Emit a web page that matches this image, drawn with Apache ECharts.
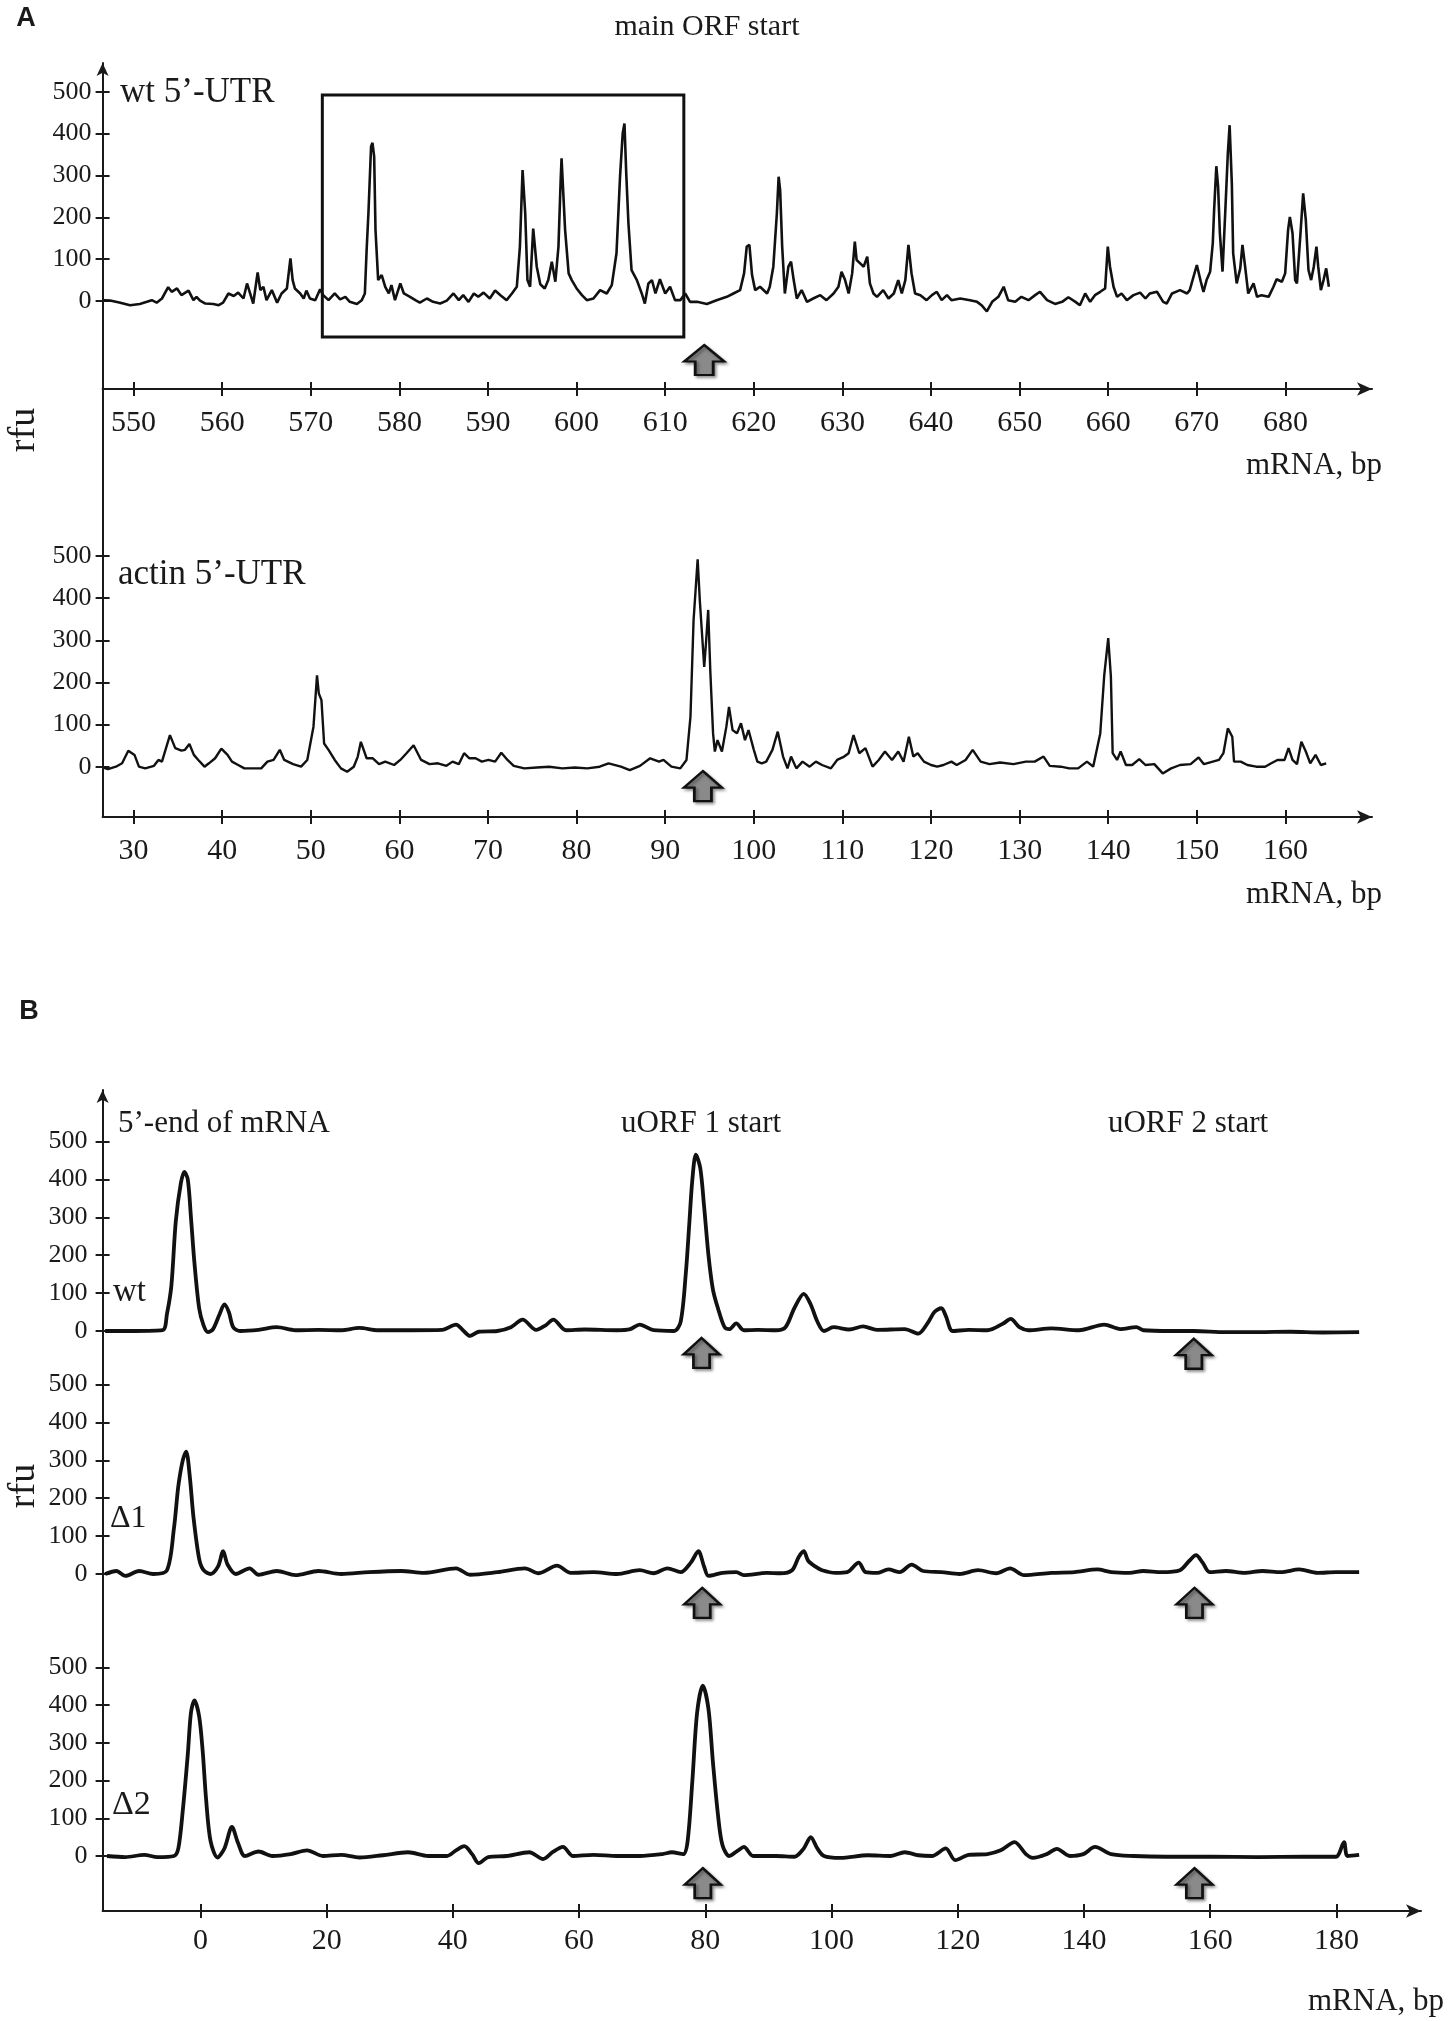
<!DOCTYPE html>
<html>
<head>
<meta charset="UTF-8">
<title>toeprint traces</title>
<script src="https://cdn.jsdelivr.net/npm/echarts@6.0.0/dist/echarts.min.js"></script>
<style>
  html, body { margin: 0; padding: 0; background: #fff; }
  #chart { width: 1450px; height: 2021px; }
</style>
</head>
<body>
<div id="chart"></div>
<script>
// ---- tick values ----
var rfuTicks    = [0, 100, 200, 300, 400, 500];
var wtUtrTicks  = [550, 560, 570, 580, 590, 600, 610, 620, 630, 640, 650, 660, 670, 680];
var actinTicks  = [30, 40, 50, 60, 70, 80, 90, 100, 110, 120, 130, 140, 150, 160];
var panelBTicks = [0, 20, 40, 60, 80, 100, 120, 140, 160, 180];

// ---- A: wt 5'-UTR trace (bp, rfu) ----
var wtUtrBp = [546.6, 547.35, 548.5, 549.6, 550.7, 551.5, 552.05, 552.6, 553.2, 553.9, 554.3, 554.9, 555.4, 556.2, 556.75, 557.1, 557.5, 558.1, 559.0, 559.6,
  560.1, 560.7, 561.3, 561.8, 562.4, 562.8, 563.15, 563.5, 564.0, 564.3, 564.65, 565.0, 565.6, 566.2, 566.7, 567.3, 567.7, 567.95, 568.2, 568.8,
  569.2, 569.5, 569.9, 570.5, 571.05, 571.4, 572.0, 572.7, 573.3, 573.9, 574.4, 575.2, 575.75, 576.1, 576.3, 576.5, 576.8, 576.96, 577.15, 577.3,
  577.6, 578.0, 578.4, 578.8, 579.1, 579.5, 580.1, 580.5, 581.2, 581.8, 582.3, 583.1, 583.8, 584.6, 585.35, 586.1, 586.7, 587.2, 587.8, 588.4,
  588.9, 589.5, 590.2, 590.8, 591.4, 592.1, 592.7, 593.25, 593.6, 593.9, 594.2, 594.45, 594.75, 595.1, 595.5, 595.9,
  596.4, 596.8, 597.2, 597.6, 597.95, 598.2, 598.3, 598.5, 598.7, 599.1, 599.45, 600.0, 600.6, 601.15, 601.9, 602.65, 603.4, 603.97, 604.5, 604.9,
  605.2, 605.4, 605.6, 605.85, 606.2, 606.8, 607.35, 607.7, 608.1, 608.5, 608.9, 609.4, 610.0, 610.55, 611.1, 611.7, 612.25, 612.8, 613.6, 614.7,
  615.8, 616.95, 617.7, 618.45, 618.9, 619.2, 619.5, 619.8, 620.15, 620.7, 621.5, 621.8, 622.2, 622.6, 622.8, 622.97, 623.2, 623.5, 623.9, 624.2,
  624.5, 624.85, 625.4, 626.0, 626.7, 627.5, 628.2, 629.0, 629.55, 629.9, 630.3, 630.7, 631.1, 631.4, 631.6, 632.0, 632.4, 632.8, 633.1, 633.5,
  633.9, 634.6, 635.2, 635.8, 636.3, 636.7, 637.1, 637.45, 637.8, 638.2, 638.8, 639.5, 640.1, 640.65, 641.2, 641.8, 642.3, 643.3, 644.4, 645.2,
  645.7, 646.3, 646.9, 647.6, 648.2, 648.7, 649.5, 650.2, 651.0, 651.75, 652.3, 653.1, 654.0, 654.8, 655.5, 656.3, 656.8, 657.4, 657.96, 658.5,
  659.1, 659.65, 659.95, 660.2, 660.6, 661.0, 661.5, 662.1, 662.85, 663.6, 664.2, 664.7, 665.5, 666.2, 666.6, 667.2, 668.1, 668.9, 669.2, 670.0,
  670.45, 670.75, 671.1, 671.5, 671.8, 671.95, 672.2, 672.4, 672.6, 672.9, 673.2, 673.5, 673.7, 673.8, 673.95, 674.1, 674.5, 674.9, 675.15, 675.45,
  675.8, 676.4, 676.8, 677.3, 678.1, 678.65, 679.0, 679.6, 679.97, 680.3, 680.5, 680.8, 681.1, 681.3, 681.7, 682.0, 682.3, 682.6, 682.9, 683.2,
  683.5, 683.7, 684.0, 684.3, 684.6, 684.9];
var wtUtrRfu = [2, 1, -4, -10, -7, -2, 2, -4, 6, 33, 22, 30, 14, 25, 2, 10, 1, -6, -7, -10,
  -4, 18, 12, 20, 6, 42, 18, -6, 68, 26, 34, 2, 26, -4, 18, 30, 102, 50, 30, 18,
  6, 25, 6, 2, 28, 14, 2, 18, 4, 10, -2, -7, 2, 18, 122, 209, 369, 378, 345, 170,
  50, 62, 34, 18, 38, 2, 42, 18, 10, 2, -4, 6, -2, -6, 1, 18, 2, 14, -2, 18,
  10, 20, 6, 25, 14, 2, 18, 34, 130, 313, 209, 50, 34, 173, 82, 40,
  30, 50, 94, 46, 130, 289, 341, 337, 170, 66, 50, 30, 14, 2, 6, 26, 18, 38, 114, 297,
  400, 424, 305, 185, 74, 50, 18, -6, 42, 50, 18, 52, 18, 34, 2, 2, 18, -2, -2, -7,
  2, 10, 18, 26, 66, 130, 134, 62, 26, 34, 18, 34, 82, 209, 297, 265, 130, 18, 82, 94,
  50, 6, 26, -2, 6, 14, 2, 18, 34, 70, 50, 18, 66, 142, 98, 90, 82, 106, 42, 18,
  10, 26, 6, 18, 50, 18, 50, 134, 66, 18, 14, 2, 14, 22, 2, 14, 2, 6, 2, -2,
  -10, -25, -2, 10, 34, 2, -2, 10, 2, 14, 22, 2, -7, -2, 9, -2, -10, 18, -2, 14,
  22, 30, 130, 82, 34, 10, 18, 2, 14, 20, 6, 18, 22, -2, -6, 18, 26, 18, 26, 86,
  46, 22, 50, 70, 138, 217, 322, 273, 162, 70, 209, 353, 420, 416, 281, 114, 42, 78, 134, 82,
  18, 42, 10, 14, 10, 34, 52, 46, 66, 170, 201, 162, 50, 42, 162, 257, 193, 74, 50, 82,
  130, 82, 26, 50, 78, 34];

// ---- A: actin 5'-UTR trace (bp, rfu) ----
var actinBp = [26.6, 27.1, 28.0, 28.7, 29.4, 30.1, 30.6, 31.3, 32.3, 32.8, 33.2, 33.7, 34.1, 34.7, 35.4, 35.8, 36.3, 36.8, 37.3, 38.0,
  38.5, 39.2, 39.9, 40.6, 41.1, 41.8, 42.5, 43.4, 44.4, 45.1, 45.8, 46.5, 47.0, 48.0, 48.9, 49.6, 50.3, 50.7, 50.9, 51.2,
  51.5, 52.0, 52.7, 53.4, 54.1, 54.85, 55.3, 55.65, 56.3, 57.0, 57.7, 58.4, 59.4, 60.1, 60.8, 61.6, 62.45, 63.4, 64.35, 65.3,
  66.0, 66.7, 67.3, 67.9, 68.6, 69.3, 70.05, 70.8, 71.5, 72.2, 72.9, 74.1, 75.5, 76.9, 78.4, 79.8, 81.2, 82.6, 83.6, 85.0,
  86.0, 87.15, 88.3, 89.3, 89.8, 90.7, 91.7, 92.4, 92.85, 93.2, 93.66, 93.9, 94.1, 94.4, 94.6, 94.85, 95.1, 95.4, 95.6, 95.9,
  96.4, 96.9, 97.2, 97.6, 98.1, 98.55, 99.0, 99.4, 100.0, 100.4, 100.9, 101.4, 102.1, 102.7, 103.3, 103.8, 104.2, 104.8, 105.5, 106.3,
  107.0, 107.7, 108.7, 109.4, 110.2, 110.7, 111.25, 111.9, 112.6, 113.4, 114.1, 114.8, 115.6, 116.3, 116.9, 117.5, 118.0, 118.5, 119.2, 120.0,
  120.7, 121.4, 122.3, 122.9, 123.9, 124.7, 125.6, 126.6, 127.8, 129.3, 130.7, 131.7, 132.7, 133.4, 134.65, 135.6, 136.6, 137.6, 138.3, 139.1,
  139.55, 140.0, 140.3, 140.5, 141.0, 141.4, 142.0, 142.7, 143.5, 144.2, 145.2, 146.15, 147.1, 148.1, 149.3, 150.2, 150.8, 151.8, 152.5, 153.0,
  153.5, 154.0, 154.2, 154.96, 155.7, 156.7, 157.7, 158.4, 159.1, 159.9, 160.35, 160.8, 161.3, 161.8, 162.3, 162.8, 163.4, 164.0, 164.6];
var actinRfu = [-2, -6, 0, 8, 38, 28, 0, -4, 2, 16, 12, 47, 75, 44, 38, 40, 54, 28, 16, 0,
  8, 20, 43, 28, 12, 4, -4, -4, -4, 12, 16, 40, 16, 6, 0, 16, 95, 217, 174, 158,
  55, 40, 16, -4, -12, 0, 24, 59, 20, 20, 6, 12, 4, 16, 32, 51, 16, 6, 8, 2,
  12, 6, 32, 20, 20, 12, 16, 12, 33, 16, 2, -4, -2, 0, -4, -2, -4, 0, 8, 0,
  -8, 2, 20, 12, 16, 0, -4, 16, 119, 348, 492, 396, 332, 237, 293, 372, 221, 79, 36, 63,
  36, 95, 142, 87, 79, 103, 63, 87, 40, 12, 8, 12, 40, 83, 24, -4, 24, -4, 12, 0,
  12, 4, -4, 16, 24, 32, 75, 32, 44, 0, 16, 36, 16, 36, 12, 71, 24, 32, 12, 4,
  0, 4, 12, 4, 16, 40, 12, 6, 10, 6, 12, 12, 24, 2, 0, -4, -4, 12, 0, 79,
  217, 305, 214, 32, 16, 36, 4, 4, 18, 4, 6, -16, -4, 4, 6, 22, 6, 12, 16, 32,
  91, 71, 12, 12, 4, 0, 0, 8, 16, 16, 44, 16, 6, 59, 36, 8, 28, 4, 8];

// ---- B: wt trace (bp, rfu) ----
var bWtBp = [-15.1, -10.4, -6.0, -5.3, -4.6, -3.9, -3.1, -2.55, -2.0, -1.5, -0.95, -0.2, 0.5, 1.2, 2.0, 3.05, 3.8, 4.5, 5.2, 6.3,
  9.2, 12.1, 15.05, 18.7, 22.3, 25.2, 28.1, 33.2, 38.3, 40.5, 41.6, 42.7, 44.1, 47.05, 49.2, 51.05, 53.2, 54.7, 55.9, 57.95,
  60.9, 66.0, 68.1, 69.6, 71.8, 75.05, 76.1, 76.9, 77.45, 77.95, 78.5, 79.2, 79.8, 80.5, 81.2, 82.0, 83.05, 83.8, 84.9, 86.1,
  88.3, 91.2, 92.7, 94.1, 95.6, 96.7, 97.75, 98.8, 100.3, 102.8, 105.0, 107.2, 111.6, 113.75, 115.2, 116.3, 117.4, 118.1, 119.2, 121.75,
  124.7, 127.2, 128.4, 129.75, 131.2, 134.8, 139.2, 143.2, 145.75, 148.3, 149.4, 153.75, 157.4, 162.5, 167.6, 172.7, 177.75, 183.6];
var bWtRfu = [0, 0, 2, 45, 120, 290, 390, 420, 400, 300, 180, 60, 15, -3, 5, 45, 70, 50, 10, 0,
  3, 10, 2, 3, 2, 8, 2, 2, 3, 17, 2, -13, -2, 0, 10, 30, 3, 15, 30, 2,
  4, 2, 5, 17, 2, 0, 25, 150, 280, 400, 465, 430, 330, 200, 110, 60, 10, 5, 20, 2,
  3, 2, 10, 60, 98, 70, 25, 0, 10, 4, 12, 3, 5, -7, 20, 50, 60, 40, 0, 3,
  2, 20, 32, 10, 2, 7, 2, 17, 5, 10, 2, 0, 0, -3, -3, -2, -4, -3];

// ---- B: delta-1 trace (bp, rfu) ----
var bD1Bp = [-15.1, -13.3, -11.9, -9.7, -7.5, -5.3, -4.2, -3.5, -2.8, -2.26, -1.7, -1.1, -0.2, 0.5, 1.6, 2.8, 3.6, 4.3, 5.6, 7.8,
  9.2, 12.1, 15.05, 18.7, 22.3, 26.7, 31.8, 35.4, 40.5, 42.7, 47.05, 51.4, 53.6, 56.5, 58.7, 62.3, 66.0, 69.6, 71.8, 74.0,
  76.1, 77.7, 78.9, 79.8, 80.5, 82.7, 84.9, 86.1, 89.75, 91.9, 93.75, 94.8, 95.6, 96.3, 97.4, 98.5, 100.65, 102.5, 104.3, 105.4,
  107.2, 109.0, 110.8, 112.7, 114.5, 117.4, 120.3, 123.2, 126.1, 128.3, 130.5, 134.8, 138.5, 142.1, 144.3, 147.2, 149.4, 152.3, 155.2, 156.7,
  157.75, 158.8, 159.9, 162.5, 165.4, 168.3, 171.2, 174.1, 177.0, 179.9, 183.6];
var bD1Rfu = [0, 8, -5, 8, 0, 10, 120, 232, 300, 323, 260, 150, 40, 10, 0, 20, 60, 25, 0, 15,
  -2, 8, -3, 8, 0, 5, 8, 3, 15, -2, 5, 15, 2, 22, 3, 5, 0, 10, 2, 15,
  5, 30, 60, 20, -5, 3, 5, -3, 3, 2, 10, 45, 60, 35, 20, 10, 3, 5, 30, 5,
  3, 12, 5, 25, 8, 5, 0, 10, 2, 15, -3, 3, 5, 12, 5, 3, 8, 5, 10, 35,
  50, 30, 5, 8, 3, 8, 5, 12, 3, 5, 5];

// ---- B: delta-2 trace (bp, rfu) ----
var bD2Bp = [-14.8, -11.9, -8.9, -6.8, -4.2, -3.5, -2.8, -2.0, -1.5, -0.95, -0.2, 0.35, 0.9, 1.6, 2.7, 3.8, 5.0, 5.95, 7.05, 9.2,
  11.4, 14.3, 16.9, 19.4, 22.3, 25.2, 28.9, 32.9, 36.1, 39.05, 40.5, 41.8, 43.05, 44.1, 45.6, 48.5, 52.1, 54.3, 55.8, 57.45,
  59.05, 62.3, 66.0, 69.6, 73.2, 74.7, 76.5, 77.2, 77.95, 78.7, 79.6, 80.5, 81.2, 82.0, 82.7, 83.8, 85.2, 86.1, 87.6, 91.2,
  94.1, 95.6, 96.7, 97.75, 98.8, 101.4, 105.75, 109.4, 111.6, 113.75, 115.9, 118.1, 119.6, 121.75, 124.7, 126.8, 129.0, 130.8, 131.9, 134.1,
  135.7, 137.75, 139.9, 141.75, 144.3, 147.9, 153.0, 160.3, 167.6, 174.8, 179.9, 181.2, 181.75, 183.6];
var bD2Rfu = [0, -3, 3, -3, 0, 20, 120, 270, 380, 413, 370, 280, 150, 40, -4, 20, 77, 35, 0, 12,
  0, 5, 15, 0, 3, -4, 2, 10, 0, 0, 15, 26, 5, -19, -3, 0, 10, -8, 10, 24,
  0, 3, 0, 0, 5, 10, 5, 40, 200, 380, 452, 390, 250, 110, 30, 0, 15, 24, 0, 0,
  -2, 20, 50, 20, 0, -5, 2, 0, 10, 2, 0, 20, -11, 3, 5, 15, 37, 5, -5, 5,
  19, 0, 5, 24, 5, 0, -2, -2, -3, -2, -2, 37, 0, 3];

// start-codon arrows, [bp, rfu] where each arrow sits
var arrowWtUtr = [[614.4, -141]];
var arrowActin = [[94.25, -46]];
var arrowBWt   = [[79.4, -58], [157.4, -60]];
var arrowBD1   = [[79.5, -76], [157.5, -76]];
var arrowBD2   = [[79.6, -72], [157.5, -72]];

// ---------------------------------------------------------------
var serifName = 'Liberation Serif';
var serif = '"Liberation Serif", "Times New Roman", serif';
var ink = '#1a1a1a';
var arrowPath = 'path://M20,0 L40,17 L29,17 L29,31 L11,31 L11,17 L0,17 Z';

function pairs(xs, ys) {
  return xs.map(function (x, i) { return [x, ys[i]]; });
}

function xAxisOf(grid, min, max, ticks, withArrow, inner, labelGap) {
  return {
    type: 'value', gridIndex: grid, min: min, max: max, position: 'bottom',
    axisLine: {
      show: !inner, onZero: false,
      symbol: withArrow ? ['none', 'arrow'] : 'none', symbolSize: [10, 15],
      lineStyle: { color: ink, width: 2 }
    },
    axisTick: { show: !!ticks, inside: !!inner, length: 7, customValues: ticks || [], lineStyle: { color: ink, width: 2 } },
    axisLabel: { show: !!ticks && !inner, customValues: ticks || [], fontFamily: serifName, fontSize: 30, color: ink, margin: labelGap || 15 },
    splitLine: { show: false }
  };
}

function yAxisOf(grid, min, max, withArrow, inner, labelGap) {
  return {
    type: 'value', gridIndex: grid, min: min, max: max, position: 'left',
    axisLine: {
      show: !inner, onZero: false,
      symbol: withArrow ? ['none', 'arrow'] : 'none', symbolSize: [9, 13],
      lineStyle: { color: ink, width: 2 }
    },
    axisTick: { show: true, inside: !!inner, length: 7, customValues: rfuTicks, lineStyle: { color: ink, width: 2 } },
    axisLabel: { show: !inner, customValues: rfuTicks, fontFamily: serifName, fontSize: 26, color: ink, margin: labelGap },
    splitLine: { show: false }
  };
}

function arrowMarks(list, w) {
  return {
    symbol: arrowPath, symbolSize: [w, 30], silent: true,
    itemStyle: { color: '#8a8a8a', borderColor: '#111', borderWidth: 2.5,
      shadowColor: 'rgba(0,0,0,0.35)', shadowBlur: 3, shadowOffsetX: 2, shadowOffsetY: 2 },
    label: { show: false },
    data: list.map(function (p) { return { coord: p }; })
  };
}

function trace(xi, yi, data, width, smooth, extra) {
  var s = {
    type: 'line', xAxisIndex: xi, yAxisIndex: yi, data: data,
    showSymbol: false, symbol: 'none', smooth: smooth, silent: true,
    lineStyle: { color: '#111', width: width }
  };
  for (var k in extra) s[k] = extra[k];
  return s;
}

var chart = echarts.init(document.getElementById('chart'));

var left = 102.6;
var option = {
  animation: false,
  backgroundColor: '#fff',
  textStyle: { fontFamily: serifName },
  grid: [
    { left: left, top: 63,   width: 1372 - left, height: 326, outerBoundsMode: 'none' },
    { left: left, top: 389,  width: 1372 - left, height: 428, outerBoundsMode: 'none' },
    { left: left, top: 1090, width: 1421 - left, height: 290, outerBoundsMode: 'none' },
    { left: left, top: 1380, width: 1421 - left, height: 260, outerBoundsMode: 'none' },
    { left: left, top: 1640, width: 1421 - left, height: 271, outerBoundsMode: 'none' }
  ],
  xAxis: [
    xAxisOf(0, 546.5, 689.77, wtUtrTicks, true, false, 19),
    xAxisOf(1, 26.5, 169.77, actinTicks, true, false, 19),
    { type: 'value', gridIndex: 2, min: -15.5, max: 193.4, show: false },
    { type: 'value', gridIndex: 3, min: -15.5, max: 193.4, show: false },
    xAxisOf(4, -15.5, 193.4, panelBTicks, true, false, 15),
    xAxisOf(0, 546.5, 689.77, wtUtrTicks, false, true),
    xAxisOf(1, 26.5, 169.77, actinTicks, false, true),
    xAxisOf(4, -15.5, 193.4, panelBTicks, false, true)
  ],
  yAxis: [
    yAxisOf(0, -210.2, 568.6, true, false, 11),
    yAxisOf(1, -119.4, 896.3, false, false, 11),
    yAxisOf(2, -129.3, 635.9, true, false, 15),
    yAxisOf(3, -174.1, 511.9, false, false, 15),
    yAxisOf(4, -145.9, 573.0, false, false, 15),
    yAxisOf(0, -210.2, 568.6, false, true, 0),
    yAxisOf(1, -119.4, 896.3, false, true, 0),
    yAxisOf(2, -129.3, 635.9, false, true, 0),
    yAxisOf(3, -174.1, 511.9, false, true, 0),
    yAxisOf(4, -145.9, 573.0, false, true, 0)
  ],
  series: [
    trace(0, 0, pairs(wtUtrBp, wtUtrRfu), 2.6, false, {
      markArea: {
        silent: true,
        itemStyle: { color: 'rgba(0,0,0,0)', borderColor: '#111', borderWidth: 3 },
        data: [[{ coord: [571.3, 492] }, { coord: [612.1, -86] }]]
      },
      markPoint: arrowMarks(arrowWtUtr, 40)
    }),
    trace(1, 1, pairs(actinBp, actinRfu), 2.4, false, { markPoint: arrowMarks(arrowActin, 38) }),
    trace(2, 2, pairs(bWtBp, bWtRfu), 3.8, 0.3, { markPoint: arrowMarks(arrowBWt, 36) }),
    trace(3, 3, pairs(bD1Bp, bD1Rfu), 3.8, 0.3, { markPoint: arrowMarks(arrowBD1, 36) }),
    trace(4, 4, pairs(bD2Bp, bD2Rfu), 3.8, 0.3, { markPoint: arrowMarks(arrowBD2, 36) })
  ],
  graphic: [
    { type: 'text', x: 26, y: 19, style: { text: 'A', font: 'bold 27px "Liberation Sans", sans-serif', fill: ink, align: 'center', verticalAlign: 'middle' } },
    { type: 'text', x: 29, y: 1012, style: { text: 'B', font: 'bold 27px "Liberation Sans", sans-serif', fill: ink, align: 'center', verticalAlign: 'middle' } },
    { type: 'text', x: 707, y: 27, style: { text: 'main ORF start', font: '30px ' + serif, fill: ink, align: 'center', verticalAlign: 'middle' } },
    { type: 'text', x: 120, y: 93, style: { text: 'wt 5\u2019-UTR', font: '35px ' + serif, fill: ink, align: 'left', verticalAlign: 'middle' } },
    { type: 'text', x: 118, y: 575, style: { text: 'actin 5\u2019-UTR', font: '35px ' + serif, fill: ink, align: 'left', verticalAlign: 'middle' } },
    { type: 'text', x: 1314, y: 466, style: { text: 'mRNA, bp', font: '31px ' + serif, fill: ink, align: 'center', verticalAlign: 'middle' } },
    { type: 'text', x: 1314, y: 895, style: { text: 'mRNA, bp', font: '31px ' + serif, fill: ink, align: 'center', verticalAlign: 'middle' } },
    { type: 'text', x: 1376, y: 2002, style: { text: 'mRNA, bp', font: '31px ' + serif, fill: ink, align: 'center', verticalAlign: 'middle' } },
    { type: 'text', x: 24, y: 430, rotation: Math.PI / 2, style: { text: 'rfu', font: '38px ' + serif, fill: ink, align: 'center', verticalAlign: 'middle' } },
    { type: 'text', x: 24, y: 1486, rotation: Math.PI / 2, style: { text: 'rfu', font: '38px ' + serif, fill: ink, align: 'center', verticalAlign: 'middle' } },
    { type: 'text', x: 118, y: 1124, style: { text: '5\u2019-end of mRNA', font: '31px ' + serif, fill: ink, align: 'left', verticalAlign: 'middle' } },
    { type: 'text', x: 701, y: 1124, style: { text: 'uORF 1 start', font: '31px ' + serif, fill: ink, align: 'center', verticalAlign: 'middle' } },
    { type: 'text', x: 1188, y: 1124, style: { text: 'uORF 2 start', font: '31px ' + serif, fill: ink, align: 'center', verticalAlign: 'middle' } },
    { type: 'text', x: 113, y: 1292, style: { text: 'wt', font: '33px ' + serif, fill: ink, align: 'left', verticalAlign: 'middle' } },
    { type: 'text', x: 110, y: 1519, style: { text: '\u03941', font: '32px ' + serif, fill: ink, align: 'left', verticalAlign: 'middle' } },
    { type: 'text', x: 112, y: 1805, style: { text: '\u03942', font: '34px ' + serif, fill: ink, align: 'left', verticalAlign: 'middle' } }
  ]
};

chart.setOption(option);
</script>
</body>
</html>
